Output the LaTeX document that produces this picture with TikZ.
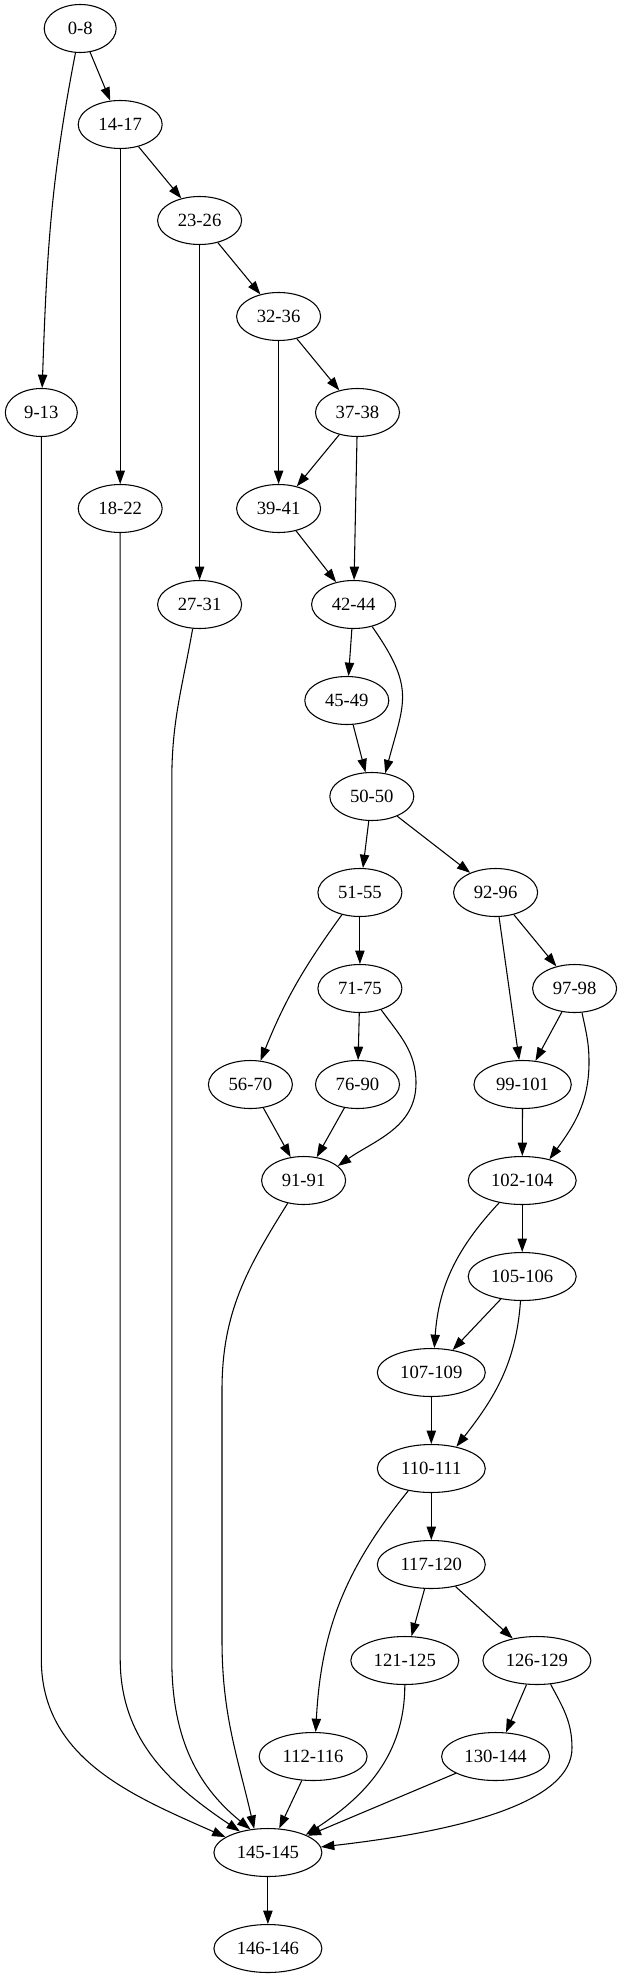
\documentclass[tikz,border=0pt]{standalone}
\usepackage{fontspec}
\setmainfont{Liberation Serif}
\usetikzlibrary{shapes.geometric,arrows.meta}
\begin{document}
\begin{tikzpicture}[x=0.75pt,y=0.75pt,
  nd/.style={ellipse,draw,line width=0.8pt,minimum height=36pt,minimum width=54pt,inner sep=0pt,font=\fontsize{14}{16}\selectfont},
  wa/.style={nd,minimum width=63pt},
  wb/.style={nd,minimum width=73pt},
  wc/.style={nd,minimum width=81pt},
  e/.style={line width=0.8pt,-{Triangle[length=10pt,width=7pt]}}]
\useasboundingbox (0,0) rectangle (619,-1979);
% nodes
\node[nd] (n0)   at (80.2,-28.5)   {0-8};
\node[wa] (n14)  at (120.2,-124.5) {14-17};
\node[wa] (n23)  at (199.6,-220.5) {23-26};
\node[wa] (n32)  at (278.6,-316.5) {32-36};
\node[nd] (n9)   at (41.3,-412.5)  {9-13};
\node[wa] (n37)  at (357.5,-412.5) {37-38};
\node[wa] (n18)  at (120.2,-508.5) {18-22};
\node[wa] (n39)  at (278.6,-508.5) {39-41};
\node[wa] (n27)  at (199.6,-604.5) {27-31};
\node[wa] (n42)  at (353.6,-604.5) {42-44};
\node[wa] (n45)  at (346.8,-700.5) {45-49};
\node[wa] (n50)  at (371.8,-796.5) {50-50};
\node[wa] (n51)  at (359.9,-892.5) {51-55};
\node[wa] (n92)  at (495.6,-892.5) {92-96};
\node[wa] (n71)  at (359.9,-988.5) {71-75};
\node[wa] (n97)  at (574.6,-988.5) {97-98};
\node[wa] (n56)  at (250.4,-1084.5) {56-70};
\node[wa] (n76)  at (357.5,-1084.5) {76-90};
\node[wb] (n99)  at (522.6,-1084.5) {99-101};
\node[wa] (n91)  at (303.6,-1180.5) {91-91};
\node[wc] (n102) at (522.2,-1180.5) {102-104};
\node[wc] (n105) at (522.2,-1276.5) {105-106};
\node[wc] (n107) at (431.3,-1372.5) {107-109};
\node[wc] (n110) at (431.3,-1468.5) {110-111};
\node[wc] (n117) at (431.3,-1564.5) {117-120};
\node[wc] (n121) at (404.8,-1660.5) {121-125};
\node[wc] (n126) at (536.9,-1660.5) {126-129};
\node[wc] (n112) at (313.1,-1756.5) {112-116};
\node[wc] (n130) at (495.6,-1756.5) {130-144};
\node[wc] (n145) at (267.9,-1852.5) {145-145};
\node[wc] (n146) at (267.9,-1948.5) {146-146};
% straight edges
\draw[e] (n0) -- (n14);
\draw[e] (n14) -- (n23);
\draw[e] (n14) -- (n18);
\draw[e] (n23) -- (n32);
\draw[e] (n23) -- (n27);
\draw[e] (n32) -- (n37);
\draw[e] (n32) -- (n39);
\draw[e] (n37) -- (n39);
\draw[e] (n37) -- (n42);
\draw[e] (n39) -- (n42);
\draw[e] (n42) -- (n45);
\draw[e] (n45) -- (n50);
\draw[e] (n50) -- (n51);
\draw[e] (n50) -- (n92);
\draw[e] (n51) -- (n71);
\draw[e] (n71) -- (n76);
\draw[e] (n56) -- (n91);
\draw[e] (n76) -- (n91);
\draw[e] (n92) -- (n97);
\draw[e] (n92) -- (n99);
\draw[e] (n97) -- (n99);
\draw[e] (n99) -- (n102);
\draw[e] (n102) -- (n105);
\draw[e] (n105) -- (n107);
\draw[e] (n107) -- (n110);
\draw[e] (n110) -- (n117);
\draw[e] (n117) -- (n121);
\draw[e] (n117) -- (n126);
\draw[e] (n126) -- (n130);
\draw[e] (n130) -- (n145);
\draw[e] (n112) -- (n145);
\draw[e] (n145) -- (n146);
% curved edges
\draw[e] (n0.-101) to[out=-101,in=88] (n9.88);
\draw[e] (n42.-50) to[out=-55,in=75,looseness=1.3] (n50.60);
\draw[e] (n51.-129) to[out=-126,in=68] (n56.67);
\draw[e] (n71.-45) to[out=-54,in=90] (416,-1083) to[out=-90,in=35] (n91.23);
\draw[e] (n97.-73) to[out=-78,in=90] (589,-1062) to[out=-90,in=54] (n102.38);
\draw[e] (n102.-136) to[out=-133,in=86] (n107.83);
\draw[e] (n105.-94) to[out=-94,in=52] (n110.41);
\draw[e] (n110.-136) to[out=-129,in=87] (n112.84);
\draw[e] (n121.-90) to[out=-90,in=33] (n145.25);
\draw[e] (n126.-60) to[out=-62,in=90] (572,-1748) .. controls (572,-1800) and (470,-1830) .. (n145.6);
\draw[e] (n9) -- (41.3,-1659) to[out=-90,in=156] (n145.160);
\draw[e] (n18) -- (120.2,-1659) to[out=-90,in=146] (n145.143);
\draw[e] (n27.-106) to[out=-100,in=90] (171.8,-780) -- (171.8,-1659) to[out=-90,in=141] (n145.127);
\draw[e] (n91.-125) to[out=-122,in=90] (222,-1390) -- (222,-1640) to[out=-90,in=103] (n145.120);
\end{tikzpicture}
\end{document}
